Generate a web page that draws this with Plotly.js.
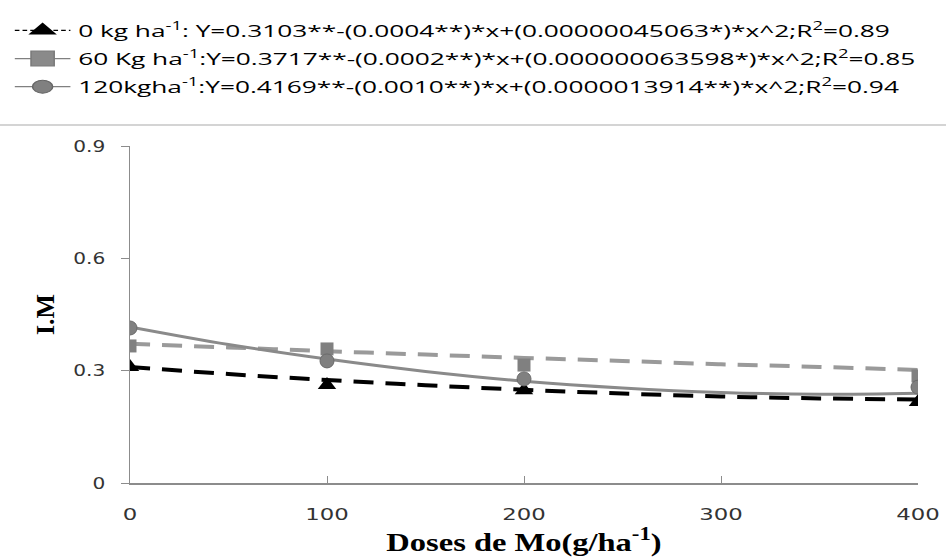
<!DOCTYPE html>
<html><head><meta charset="utf-8">
<script src="https://cdn.plot.ly/plotly-3.0.1.min.js"></script>
<style>body{margin:0;background:#fff}#c{width:946px;height:557px}</style>
</head><body><div id="c"></div>
<script>
// observed points
const doses = [0, 100, 200, 400];
const im0 = [0.310, 0.262, 0.248, 0.216];
const im60 = [0.366, 0.358, 0.315, 0.286];
const im120 = [0.414, 0.326, 0.278, 0.256];
// fitted curves
const fitX = [0, 50, 100, 150, 200, 250, 300, 350, 400];
const fit0 = [0.310, 0.291, 0.275, 0.261, 0.249, 0.239, 0.231, 0.226, 0.223];
const fit60 = [0.372, 0.362, 0.352, 0.343, 0.334, 0.326, 0.317, 0.310, 0.302];
const fit120 = [0.417, 0.370, 0.331, 0.298, 0.272, 0.254, 0.242, 0.237, 0.240];
const legendNames = [
  "0 kg ha<sup>-1</sup>: Y=0.3103**-(0.0004**)*x+(0.00000045063*)*x^2;R<sup>2</sup>=0.89",
  "60 Kg ha<sup>-1</sup>:Y=0.3717**-(0.0002**)*x+(0.000000063598*)*x^2;R<sup>2</sup>=0.85",
  "120kgha<sup>-1</sup>:Y=0.4169**-(0.0010**)*x+(0.0000013914**)*x^2;R<sup>2</sup>=0.94"
];
const xTicks = [0, 100, 200, 300, 400];
const yTicks = [0, 0.3, 0.6, 0.9];
const yTickText = ['0', '0.3', '0.6', '0.9'];

const styles = [
  {line:{color:'#000000', width:4, dash:'20px,12px'}, marker:{symbol:'triangle-up', size:16, color:'#000000'}},
  {line:{color:'#9a9a9a', width:4, dash:'20px,12px'}, marker:{symbol:'square', size:13, color:'#808080'}},
  {line:{color:'#8a8a8a', width:3}, marker:{symbol:'circle', size:14, color:'#808080', line:{color:'#6a6a6a', width:1}}}
];
const legMarkers = [
  {symbol:'triangle-up', size:16, color:'#000000'},
  {symbol:'square', size:15, color:'#8a8a8a', line:{color:'#7a7a7a', width:1}},
  {symbol:'circle', size:13, color:'#808080', line:{color:'#666', width:1}}
];
const pts = [im0, im60, im120];
const fits = [fit0, fit60, fit120];
const traces = [];
for (let i = 0; i < 3; i++) {
  traces.push({x: fitX, y: fits[i], mode: 'lines', line: Object.assign({shape:'spline'}, styles[i].line), showlegend: false, hoverinfo:'skip'});
}
for (let i = 0; i < 3; i++) {
  traces.push({x: doses, y: pts[i], mode: 'markers', marker: styles[i].marker, showlegend: false});
}
for (let i = 0; i < 3; i++) {
  traces.push({x: [null], y: [null], mode: 'lines+markers', name: legendNames[i], legendgroup: 'g' + i,
    line: {color: i===0 ? '#000' : '#808080', width: 1.2, dash: i===0 ? '3px,2px' : 'solid'},
    marker: legMarkers[i]});
}

const layout = {
  width: 946, height: 557,
  margin: {l: 130, r: 28, t: 146, b: 74, autoexpand: false},
  paper_bgcolor: '#ffffff', plot_bgcolor: '#ffffff',
  showlegend: true,
  legend: {x: -0.156, xanchor: 'left', y: 1.395, yanchor: 'top', orientation: 'v',
    font: {family: 'Open Sans, sans-serif', size: 17, color: '#000'}, itemwidth: 36, tracegroupgap: 3, bgcolor: 'rgba(0,0,0,0)'},
  xaxis: {range: [0, 400], tickvals: xTicks, showgrid: false, zeroline: false,
    showline: true, linecolor: '#8c8c8c', linewidth: 1.5, ticks: 'inside', ticklen: 7, tickcolor: '#8c8c8c',
    ticklabelstandoff: 16,
    tickfont: {family: 'DejaVu Sans, sans-serif', size: 16.5, color: '#333'},
    title: {text: 'Doses de Mo(g/ha<sup>-1</sup>)', font: {family: 'Liberation Serif, serif', size: 26, color: '#000', weight: 'bold'}, standoff: 14}},
  yaxis: {range: [0, 0.9], tickvals: yTicks, ticktext: yTickText, showgrid: false, zeroline: false,
    showline: true, linecolor: '#8c8c8c', linewidth: 1.5, ticks: 'outside', ticklen: 8, tickcolor: '#8c8c8c',
    ticklabelstandoff: 12,
    tickfont: {family: 'DejaVu Sans, sans-serif', size: 16.5, color: '#333'},
    title: {text: 'I.M', font: {family: 'Liberation Serif, serif', size: 26, color: '#000', weight: 'bold'}, standoff: 17}},
  shapes: [{type: 'line', xref: 'paper', yref: 'paper', x0: -0.17, x1: 1.04, y0: 1.062, y1: 1.062, line: {color: '#d4d4d4', width: 2}}]
};

function stretchText(sel, s) {
  document.querySelectorAll(sel).forEach(el => {
    const x = parseFloat(el.getAttribute('x')) || 0;
    const y = parseFloat(el.getAttribute('y')) || 0;
    const t = el.getAttribute('transform') || '';
    el.setAttribute('transform', t + ` translate(${x},${y}) scale(${s},1) translate(${-x},${-y})`);
  });
}
Plotly.newPlot('c', traces, layout, {displayModeBar: false, staticPlot: true}).then(() => {
  stretchText('#c .xtick text', 1.38);
  stretchText('#c .ytick text', 1.22);
  stretchText('#c .g-xtitle text', 1.25);
  const lg = document.querySelector('#c g.legend');
  if (lg) lg.setAttribute('transform', (lg.getAttribute('transform') || '') + ' scale(1.545,1)');
});
</script></body></html>
